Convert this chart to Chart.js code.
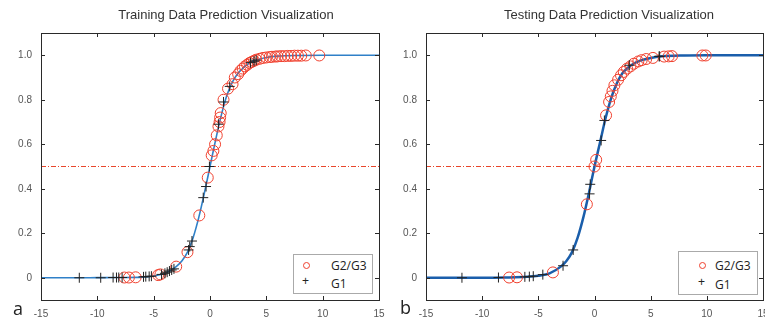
<!DOCTYPE html>
<html>
<head>
<meta charset="utf-8">
<script src="https://cdn.jsdelivr.net/npm/chart.js@4/dist/chart.umd.min.js"></script>
<style>
  body { margin: 0; background: #fff; }
  #wrap { position: relative; width: 765px; height: 325px; overflow: hidden; background: #fff; }
  canvas { position: absolute; top: 0; }
  .titulo { position: absolute; top: 7px; font: 13px "Liberation Sans", Arial, sans-serif; color: #333; white-space: nowrap; transform: translateX(-50%); }
  .leyenda { position: absolute; background: #fff; border: 1px solid #aaa; font: 12px "Open Sans", sans-serif; color: #222; }
  .fila { position: absolute; left: 0; white-space: nowrap; }
  .circ { position: absolute; width: 5px; height: 5px; border: 1.3px solid #f0402e; border-radius: 50%; }
  .mas { position: absolute; font: 12px "Liberation Sans", Arial, sans-serif; color: #222; }
  .letra { position: absolute; font: 18px "Open Sans", sans-serif; color: #222; }
</style>
</head>
<body>
<div id="wrap">
  <canvas id="g1" width="390" height="325" style="left:0;width:390px;height:325px"></canvas>
  <canvas id="g2" width="385" height="325" style="left:390px;width:385px;height:325px"></canvas>

  <div class="titulo" style="left:226px">Training Data Prediction Visualization</div>
  <div class="titulo" style="left:609px">Testing Data Prediction Visualization</div>

  <div class="leyenda" style="left:293px;top:254px;width:78px;height:38px">
    <span class="circ" style="left:9px;top:7px"></span><span class="fila" style="left:37px;top:2px">G2/G3</span>
    <span class="mas" style="left:8px;top:19px">+</span><span class="fila" style="left:37px;top:20px">G1</span>
  </div>
  <div class="leyenda" style="left:678px;top:251px;width:78px;height:42px">
    <span class="circ" style="left:20px;top:10px"></span><span class="fila" style="left:36px;top:5px">G2/G3</span>
    <span class="mas" style="left:19px;top:23px">+</span><span class="fila" style="left:36px;top:24px">G1</span>
  </div>

  <div class="letra" style="left:13px;top:296px">a</div>
  <div class="letra" style="left:400px;top:295px">b</div>
</div>

<script>
// ejes
const xTicks = [-15, -10, -5, 0, 5, 10, 15];
const yTicks = [0, 0.2, 0.4, 0.6, 0.8, 1.0];
const umbral = 0.5;

// entrenamiento: curva ajustada
const trainCurveX = [-15, -12, -10, -8, -6, -5, -4, -3, -2.5, -2, -1.5, -1, -0.5, 0, 0.5, 1, 1.5, 2, 2.5, 3, 3.5, 4, 5, 6, 8, 10, 15];
const trainCurveY = [0, 0, 0.0005, 0.001, 0.003, 0.008, 0.02, 0.05, 0.075, 0.115, 0.18, 0.27, 0.38, 0.5, 0.62, 0.73, 0.82, 0.88, 0.92, 0.945, 0.965, 0.977, 0.99, 0.996, 0.999, 1, 1];

// entrenamiento: G2/G3 (circulos)
const trainG23X = [-7.6, -7.2, -6.6, -4.6, -4.4, -3.0, -2.0, -0.95, -0.2, 0.15, 0.3, 0.45, 0.6, 0.75, 0.85, 0.9, 0.95, 1.2, 1.6, 2.0, 2.2, 2.5, 2.7, 2.9, 3.1, 3.3, 3.5, 3.7, 3.9, 4.1, 4.4, 4.7, 5.0, 5.3, 5.5, 5.8, 6.0, 6.3, 6.6, 6.9, 7.2, 7.5, 7.8, 8.1, 8.5, 9.7];
const trainG23Y = [0.001, 0.001, 0.002, 0.012, 0.015, 0.05, 0.115, 0.28, 0.45, 0.55, 0.57, 0.6, 0.64, 0.68, 0.70, 0.72, 0.74, 0.8, 0.85, 0.87, 0.9, 0.915, 0.93, 0.94, 0.95, 0.957, 0.965, 0.97, 0.975, 0.98, 0.984, 0.988, 0.99, 0.992, 0.993, 0.994, 0.995, 0.996, 0.996, 0.997, 0.997, 0.998, 0.998, 0.998, 0.999, 0.999];

// entrenamiento: G1 (cruces)
const trainG1X = [-11.6, -9.7, -8.6, -8.3, -8.1, -7.8, -5.9, -5.7, -5.4, -5.2, -4.3, -4.0, -3.8, -3.6, -3.4, -3.2, -1.9, -1.8, -1.6, -0.6, -0.35, -0.05, 0.75, 1.2, 1.75, 3.6, 3.9, 4.1];
const trainG1Y = [0, 0, 0.001, 0.001, 0.001, 0.001, 0.004, 0.005, 0.006, 0.007, 0.015, 0.02, 0.025, 0.03, 0.035, 0.04, 0.125, 0.14, 0.165, 0.36, 0.41, 0.5, 0.69, 0.79, 0.86, 0.967, 0.973, 0.978];

// prueba: curva ajustada
const testCurveX = [-15, -12, -10, -8, -6, -5, -4, -3, -2.5, -2, -1.5, -1, -0.5, 0, 0.5, 1, 1.5, 2, 2.5, 3, 3.5, 4, 5, 6, 8, 10, 15];
const testCurveY = [0, 0, 0, 0.001, 0.004, 0.009, 0.02, 0.05, 0.075, 0.115, 0.18, 0.27, 0.38, 0.5, 0.61, 0.72, 0.81, 0.875, 0.92, 0.945, 0.963, 0.975, 0.988, 0.995, 0.999, 1, 1];

// prueba: G2/G3
const testG23X = [-7.6, -6.9, -3.7, -0.68, 0, 0.15, 1.03, 1.3, 1.45, 1.6, 1.77, 2.1, 2.36, 2.6, 2.9, 3.2, 3.5, 3.9, 4.2, 4.6, 5.2, 6.2, 6.6, 6.9, 9.6, 9.9];
const testG23Y = [0.001, 0.002, 0.024, 0.33, 0.5, 0.53, 0.73, 0.79, 0.815, 0.84, 0.865, 0.89, 0.91, 0.925, 0.94, 0.95, 0.962, 0.972, 0.978, 0.983, 0.988, 0.994, 0.995, 0.996, 0.999, 0.999];

// prueba: G1
const testG1X = [-11.8, -8.55, -6.2, -5.8, -5.45, -4.6, -2.8, -1.9, -0.44, -0.38, 0.59, 0.88, 3.1, 5.75, 5.8];
const testG1Y = [0, 0.001, 0.004, 0.005, 0.007, 0.014, 0.054, 0.125, 0.377, 0.42, 0.617, 0.707, 0.955, 0.995, 0.995];

const pares = (xs, ys) => xs.map((x, i) => ({ x: x, y: ys[i] }));

// marco y marcas hacia dentro, estilo matlab
const marco = {
  id: 'marco',
  afterDatasetsDraw(chart) {
    const { ctx, chartArea: a, scales } = chart;
    const L = 4;
    ctx.save();
    ctx.strokeStyle = '#2a2a2a';
    ctx.lineWidth = 1;
    ctx.beginPath();
    xTicks.forEach(v => {
      if (v === xTicks[0] || v === xTicks[xTicks.length - 1]) return;
      const px = Math.round(scales.x.getPixelForValue(v)) + 0.5;
      ctx.moveTo(px, a.bottom); ctx.lineTo(px, a.bottom - L);
      ctx.moveTo(px, a.top); ctx.lineTo(px, a.top + L);
    });
    yTicks.forEach(v => {
      const py = Math.round(scales.y.getPixelForValue(v)) + 0.5;
      ctx.moveTo(a.left, py); ctx.lineTo(a.left + L, py);
      ctx.moveTo(a.right, py); ctx.lineTo(a.right - L, py);
    });
    ctx.stroke();
    ctx.strokeRect(Math.round(a.left) + 0.5, Math.round(a.top) + 0.5, Math.round(a.right - a.left), Math.round(a.bottom - a.top));
    ctx.restore();
  }
};

function crearGrafico(id, cfg) {
  const ctx = document.getElementById(id).getContext('2d');
  return new Chart(ctx, {
    type: 'scatter',
    data: {
      datasets: [
        {
          label: 'G1',
          data: pares(cfg.g1x, cfg.g1y),
          pointStyle: 'cross',
          pointRadius: 5,
          borderColor: '#222',
          borderWidth: 1,
          showLine: false
        },
        {
          label: 'G2/G3',
          data: pares(cfg.g23x, cfg.g23y),
          pointStyle: 'circle',
          pointRadius: 5.5,
          borderColor: '#f0402e',
          backgroundColor: 'rgba(0,0,0,0)',
          borderWidth: 1,
          showLine: false
        },
        {
          label: 'curva',
          data: pares(cfg.cx, cfg.cy),
          showLine: true,
          borderColor: cfg.color,
          borderWidth: cfg.grosor,
          pointRadius: 0,
          cubicInterpolationMode: 'monotone',
          fill: false
        },
        {
          label: 'umbral',
          data: [{ x: xTicks[0], y: umbral }, { x: xTicks[xTicks.length - 1], y: umbral }],
          showLine: true,
          borderColor: '#e8452a',
          borderWidth: 1.2,
          borderDash: [5, 2, 1, 2],
          pointRadius: 0
        }
      ]
    },
    options: {
      responsive: false,
      animation: false,
      layout: { padding: { top: 33, right: cfg.derecha, left: 0, bottom: 0 } },
      plugins: { legend: { display: false }, tooltip: { enabled: false } },
      scales: {
        x: {
          type: 'linear',
          min: xTicks[0],
          max: xTicks[xTicks.length - 1],
          grid: { display: false, drawTicks: false },
          border: { display: false },
          afterBuildTicks: s => { s.ticks = xTicks.map(v => ({ value: v })); },
          afterFit: s => { s.height = 25; s.paddingLeft = 0; s.paddingRight = 0; },
          ticks: {
            padding: 8,
            maxRotation: 0,
            color: '#555',
            font: { family: 'Liberation Sans', size: 10 }
          }
        },
        y: {
          min: -0.1,
          max: 1.1,
          grid: { display: false, drawTicks: false },
          border: { display: false },
          afterBuildTicks: s => { s.ticks = yTicks.map(v => ({ value: v })); },
          afterFit: s => { s.width = cfg.izquierda; s.paddingTop = 0; s.paddingBottom = 0; },
          ticks: {
            padding: 9,
            color: '#555',
            font: { family: 'Liberation Sans', size: 10 },
            callback: v => v === 0 ? '0' : v.toFixed(1)
          }
        }
      }
    },
    plugins: [marco]
  });
}

crearGrafico('g1', {
  cx: trainCurveX, cy: trainCurveY,
  g23x: trainG23X, g23y: trainG23Y,
  g1x: trainG1X, g1y: trainG1Y,
  color: '#2f80c8', grosor: 1.6,
  izquierda: 41, derecha: 11
});

crearGrafico('g2', {
  cx: testCurveX, cy: testCurveY,
  g23x: testG23X, g23y: testG23Y,
  g1x: testG1X, g1y: testG1Y,
  color: '#1a5eab', grosor: 2.5,
  izquierda: 36, derecha: 12
});
</script>
</body>
</html>
